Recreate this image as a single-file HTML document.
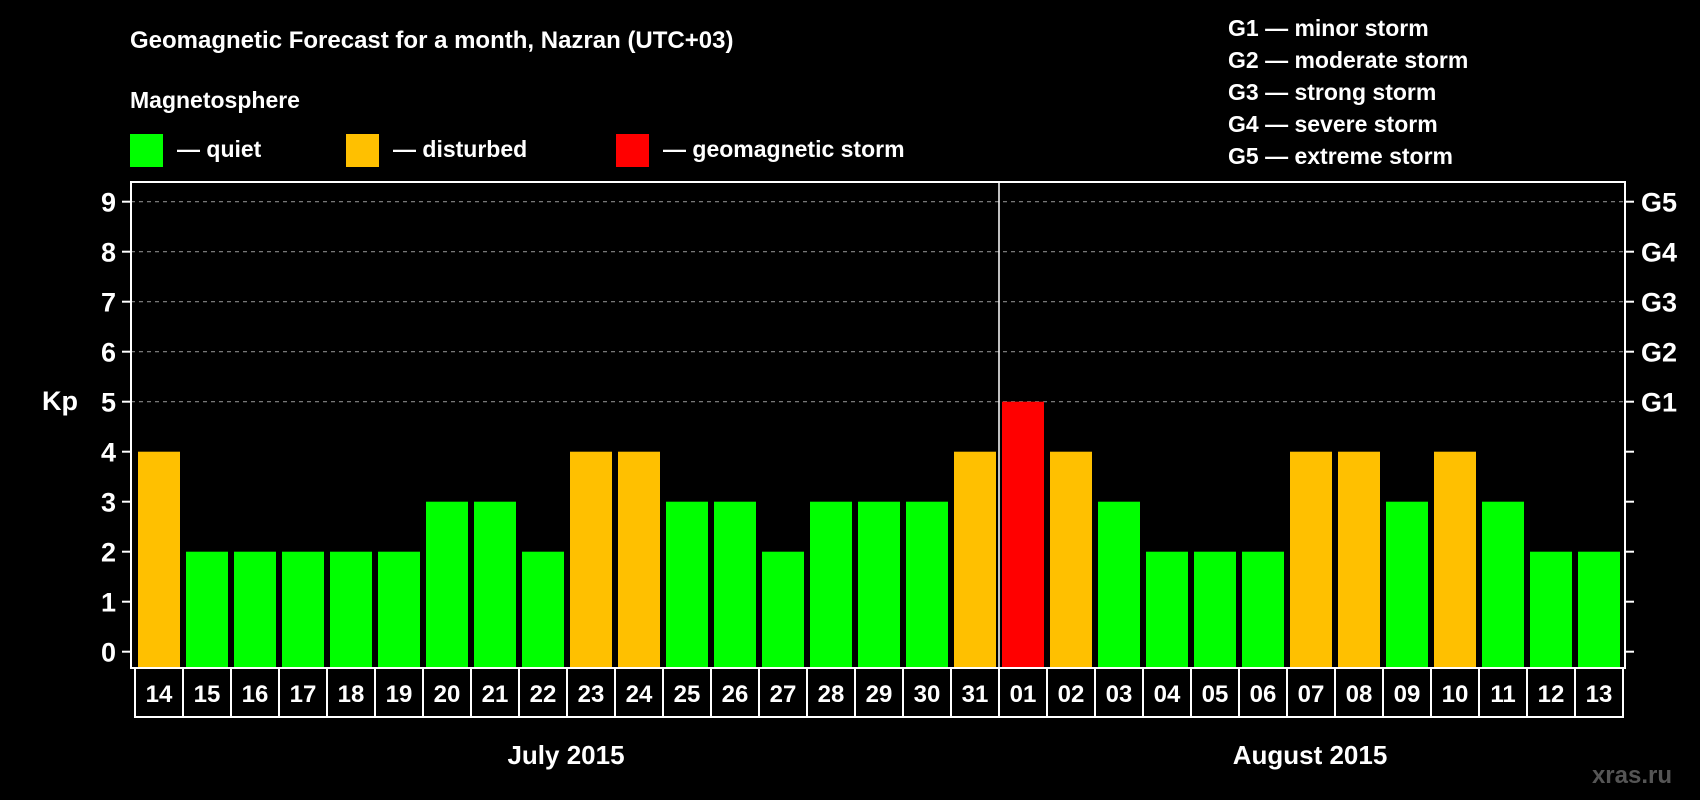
<!DOCTYPE html>
<html><head><meta charset="utf-8"><style>
html,body{margin:0;padding:0;background:#000;}
svg{display:block;font-family:"Liberation Sans",Arial,sans-serif;font-weight:bold;}
</style></head><body>
<svg id="chart" width="1700" height="800" viewBox="0 0 1700 800">
<rect x="0" y="0" width="1700" height="800" fill="#000"/>
<text x="130" y="48" fill="#fff" font-size="24">Geomagnetic Forecast for a month, Nazran (UTC+03)</text>
<text x="130" y="108" fill="#fff" font-size="23">Magnetosphere</text>
<rect x="130" y="134" width="33" height="33" fill="#00ff00"/>
<text x="177" y="157" fill="#fff" font-size="23">— quiet</text>
<rect x="346" y="134" width="33" height="33" fill="#ffc000"/>
<text x="393" y="157" fill="#fff" font-size="23">— disturbed</text>
<rect x="616" y="134" width="33" height="33" fill="#ff0000"/>
<text x="663" y="157" fill="#fff" font-size="23">— geomagnetic storm</text>
<g fill="#fff" font-size="23">
<text x="1228" y="36">G1 — minor storm</text>
<text x="1228" y="68">G2 — moderate storm</text>
<text x="1228" y="100">G3 — strong storm</text>
<text x="1228" y="132">G4 — severe storm</text>
<text x="1228" y="164">G5 — extreme storm</text>
</g>
<text x="42" y="410" fill="#fff" font-size="27">Kp</text>
<g id="grid"></g>
<g id="bars"></g>
<g id="axes"></g>
<text x="566" y="764" fill="#fff" font-size="26" text-anchor="middle">July 2015</text>
<text x="1310" y="764" fill="#fff" font-size="26" text-anchor="middle">August 2015</text>
<text x="1672" y="783" fill="#555" font-size="24" text-anchor="end">xras.ru</text>
</svg>
<script>
const days = ["14","15","16","17","18","19","20","21","22","23","24","25","26","27","28","29","30","31","01","02","03","04","05","06","07","08","09","10","11","12","13"];
const kpValues = [4,2,2,2,2,2,3,3,2,4,4,3,3,2,3,3,3,4,5,4,3,2,2,2,4,4,3,4,3,2,2];
const yTicks = [0,1,2,3,4,5,6,7,8,9];
const gLabels = ["G1","G2","G3","G4","G5"];
const gLevels = [5,6,7,8,9];
const monthSplitIndex = 18;

const NS = "http://www.w3.org/2000/svg";
const frameL = 131, frameR = 1625, frameT = 182, frameB = 668;
const cellL = 135, cellW = 48, cellT = 668, cellB = 717;
const y0 = 651.7, unit = 50;
function yScale(v){ return y0 - v*unit; }
function xCell(i){ return cellL + i*cellW; }
function mk(tag, attrs, parent){ const e=document.createElementNS(NS,tag); for(const k in attrs) e.setAttribute(k,attrs[k]); parent.appendChild(e); return e; }
const grid=document.getElementById('grid'), bars=document.getElementById('bars'), axes=document.getElementById('axes');

gLevels.forEach((lv,j)=>{
  const l=mk('line',{x1:frameL,x2:frameR,y1:yScale(lv),y2:yScale(lv),stroke:'#888','stroke-width':1.2,'stroke-dasharray':'4 4'},grid);
  
  
  const t=mk('text',{x:1641,y:yScale(lv)+10,fill:'#fff','font-size':27},axes);
  t.textContent=gLabels[j];
  
  
});

kpValues.forEach((v,i)=>{
  const c = v>=5 ? '#ff0000' : (v>=4 ? '#ffc000' : '#00ff00');
  const r=mk('rect',{x:xCell(i)+3,y:yScale(v),width:42,height:frameB-yScale(v),fill:c},bars);
  
  
  const cell=mk('rect',{x:xCell(i),y:cellT,width:cellW,height:cellB-cellT,fill:'none',stroke:'#fff','stroke-width':2},axes);
  
  
  const t=mk('text',{x:xCell(i)+cellW/2,y:702,fill:'#fff','font-size':24,'text-anchor':'middle'},axes);
  t.textContent=days[i];
  
  
});

const fr=mk('rect',{x:frameL,y:frameT,width:frameR-frameL,height:frameB-frameT,fill:'none',stroke:'#fff','stroke-width':2},axes);


const dv=mk('line',{x1:xCell(monthSplitIndex),x2:xCell(monthSplitIndex),y1:frameT,y2:frameB,stroke:'#fff','stroke-width':1.5},axes);



yTicks.forEach(v=>{
  const y=yScale(v);
  const tl=mk('line',{x1:frameL-9,x2:frameL,y1:y,y2:y,stroke:'#fff','stroke-width':2},axes);
  
  
  const tr=mk('line',{x1:frameR,x2:frameR+9,y1:y,y2:y,stroke:'#fff','stroke-width':2},axes);
  
  
  const t=mk('text',{x:116,y:y+10,fill:'#fff','font-size':27,'text-anchor':'end'},axes);
  t.textContent=v;
  
  
});
</script>
</body></html>
